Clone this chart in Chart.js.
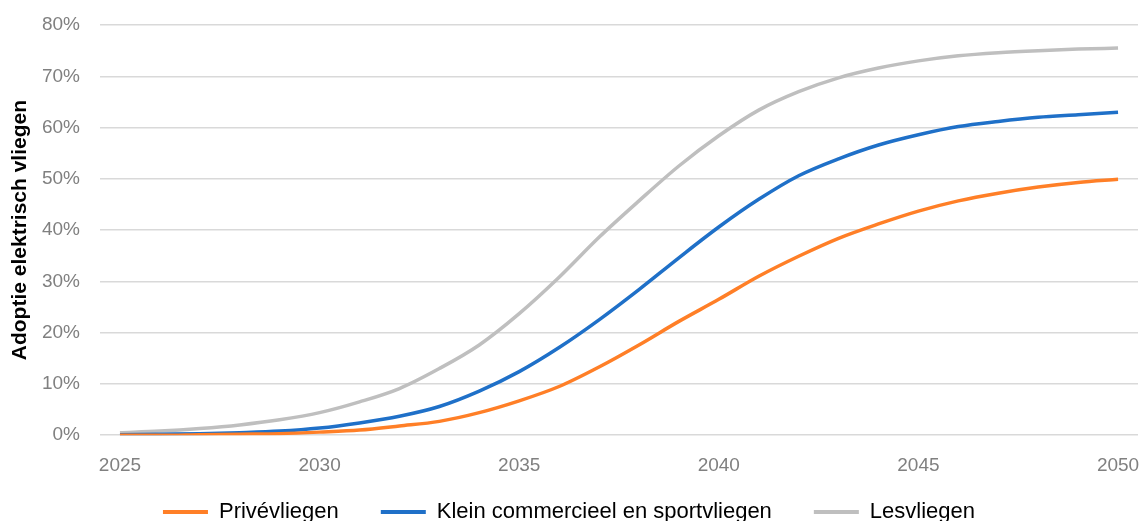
<!DOCTYPE html>
<html>
<head>
<meta charset="utf-8">
<script src="https://cdn.jsdelivr.net/npm/chart.js@4.4.1/dist/chart.umd.min.js"></script>
<style>
  html, body { margin: 0; padding: 0; background: #fff; overflow: hidden; }
  #wrap { width: 1141px; height: 521px; }
</style>
</head>
<body>
<div id="wrap"><canvas id="myChart"></canvas></div>
<script>
// jaren op de x-as
const years = [2025, 2026, 2027, 2028, 2029, 2030, 2031, 2032, 2033, 2034, 2035, 2036, 2037,
  2038, 2039, 2040, 2041, 2042, 2043, 2044, 2045, 2046, 2047, 2048, 2049, 2050];

// adoptie (fractie) per segment
const privevliegen = [0.000, 0.000, 0.001, 0.002, 0.003, 0.006, 0.010, 0.018, 0.027, 0.044, 0.067, 0.095, 0.133,
  0.176, 0.222, 0.265, 0.310, 0.349, 0.384, 0.412, 0.437, 0.457, 0.472, 0.484, 0.493, 0.499];
const kleinCommercieel = [0.001, 0.002, 0.003, 0.005, 0.008, 0.014, 0.024, 0.037, 0.056, 0.086, 0.124, 0.171, 0.225,
  0.284, 0.346, 0.406, 0.460, 0.506, 0.539, 0.566, 0.586, 0.602, 0.612, 0.620, 0.625, 0.630];
const lesvliegen = [0.005, 0.008, 0.013, 0.020, 0.030, 0.044, 0.065, 0.091, 0.130, 0.176, 0.237, 0.308, 0.386,
  0.457, 0.525, 0.584, 0.634, 0.670, 0.697, 0.716, 0.730, 0.740, 0.746, 0.750, 0.753, 0.755];

// y-as labels
const yTicks = [0, 0.1, 0.2, 0.3, 0.4, 0.5, 0.6, 0.7, 0.8];

const fontFam = "'Liberation Sans', Arial, sans-serif";
Chart.defaults.font.family = fontFam;
Chart.defaults.animation = false;

// legenda iets omhoog schuiven (padding van de legenda is ook verticaal)
const legendShift = {
  id: 'legendShift',
  afterLayout(chart) {
    const lg = chart.legend;
    if (!lg) return;
    lg.top -= 37;
    lg.bottom -= 37;
  }
};

const ctx = document.getElementById('myChart').getContext('2d');
const myChart = new Chart(ctx, {
  type: 'line',
  data: {
    labels: years,
    datasets: [
      { label: 'Privévliegen', data: privevliegen, borderColor: '#FF7F27', backgroundColor: '#FF7F27' },
      { label: 'Klein commercieel en sportvliegen', data: kleinCommercieel, borderColor: '#1F70C8', backgroundColor: '#1F70C8' },
      { label: 'Lesvliegen', data: lesvliegen, borderColor: '#BFBFBF', backgroundColor: '#BFBFBF' }
    ]
  },
  plugins: [legendShift],
  options: {
    responsive: true,
    maintainAspectRatio: false,
    layout: { padding: { top: 25, right: 3, left: 0, bottom: -49 } },
    elements: {
      point: { radius: 0 },
      line: { borderWidth: 3.5, cubicInterpolationMode: 'monotone' }
    },
    scales: {
      x: {
        type: 'category',
        offset: true,
        grid: { display: false, drawTicks: false },
        border: { display: false },
        afterFit: function (axis) { axis.paddingLeft = 0; axis.paddingRight = 0; },
        ticks: {
          autoSkip: false,
          maxRotation: 0,
          padding: 19,
          color: '#808080',
          font: { size: 19 },
          callback: function (val, i) {
            const y = years[i];
            return y % 5 === 0 ? String(y) : '';
          }
        }
      },
      y: {
        min: 0,
        max: 0.8,
        afterBuildTicks: function (axis) {
          axis.ticks = yTicks.map(v => ({ value: v }));
        },
        afterFit: function (axis) {
          axis.width = 100;
          axis.paddingTop = 0;
          axis.paddingBottom = 0;
        },
        grid: { color: '#D9D9D9', lineWidth: 1.5, drawTicks: false },
        border: { display: false },
        ticks: {
          padding: 20,
          color: '#808080',
          font: { size: 19 },
          callback: v => Math.round(v * 100) + '%'
        },
        title: {
          display: true,
          text: 'Adoptie elektrisch vliegen',
          color: '#000',
          font: { size: 21, weight: 'bold' },
          padding: { top: 8, bottom: 0 }
        }
      }
    },
    plugins: {
      tooltip: { enabled: false },
      legend: {
        position: 'bottom',
        labels: {
          boxWidth: 45,
          boxHeight: 4,
          padding: 42,
          color: '#000',
          font: { size: 22 },
          generateLabels: function (chart) {
            return Chart.defaults.plugins.legend.labels.generateLabels(chart).map(l => {
              l.lineWidth = 0;
              return l;
            });
          }
        }
      }
    }
  }
});
</script>
</body>
</html>
